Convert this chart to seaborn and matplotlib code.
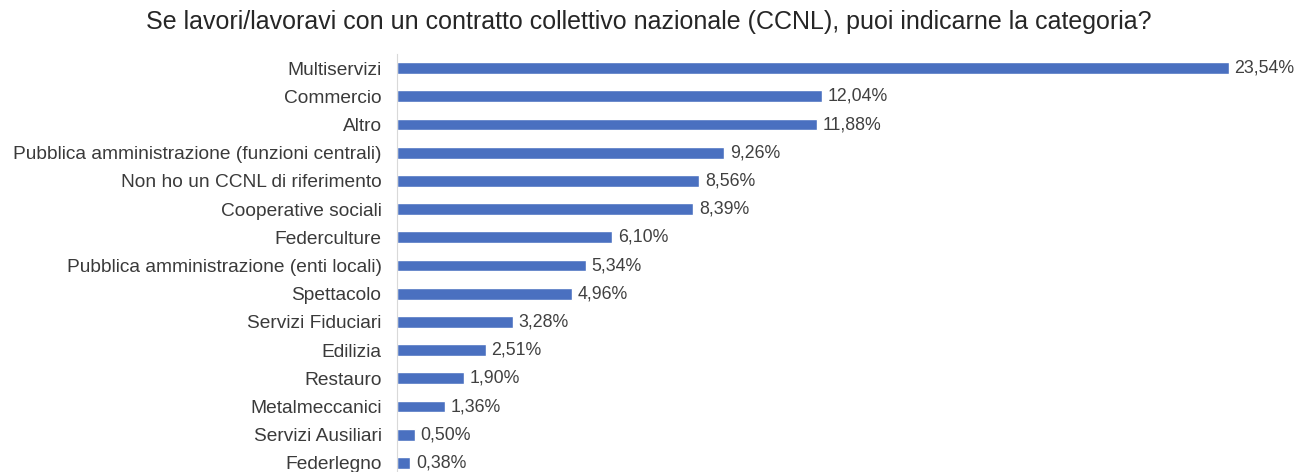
import seaborn as sns
import pandas as pd
import matplotlib.pyplot as plt

categorie = ['Multiservizi', 'Commercio', 'Altro',
             'Pubblica amministrazione (funzioni centrali)',
             'Non ho un CCNL di riferimento', 'Cooperative sociali',
             'Federculture', 'Pubblica amministrazione (enti locali)',
             'Spettacolo', 'Servizi Fiduciari', 'Edilizia', 'Restauro',
             'Metalmeccanici', 'Servizi Ausiliari', 'Federlegno']
percentuali = [23.54, 12.04, 11.88, 9.26, 8.56, 8.39, 6.10, 5.34,
               4.96, 3.28, 2.51, 1.90, 1.36, 0.50, 0.38]
titolo = 'Se lavori/lavoravi con un contratto collettivo nazionale (CCNL), puoi indicarne la categoria?'

df = pd.DataFrame({'categoria': categorie, 'perc': percentuali})

sns.set_style('white')
plt.rcParams['font.family'] = ['Liberation Sans', 'DejaVu Sans']

fig = plt.figure(figsize=(12.97, 4.72), dpi=100)
ax = fig.add_axes([0.306, 0.0, 0.6415, 0.8856])

sns.barplot(data=df, x='perc', y='categoria', color='#4A70C0', saturation=1,
            width=0.42, ax=ax)

ax.set_xlim(0, 23.54)
ax.set_ylim(14.32, -0.5)
# etichette con la virgola decimale
for i, v in enumerate(percentuali):
    ax.annotate(f'{v:.2f}%'.replace('.', ','), (v, i), xytext=(4, 0),
                textcoords='offset points', va='center', ha='left',
                fontsize=12.8, color='#404040')

ax.set_xlabel('')
ax.set_ylabel('')
ax.set_xticks([])
ax.tick_params(axis='y', length=0, pad=11, labelsize=13.8, labelcolor='#3a3a3a')
for s in ['top', 'right', 'bottom']:
    ax.spines[s].set_visible(False)
ax.spines['left'].set_color('#D9D9D9')
ax.spines['left'].set_linewidth(0.8)

fig.text(0.5, 0.953, titolo, ha='center', va='center', fontsize=18, color='#262626')

fig.savefig('out.png', dpi=100)
